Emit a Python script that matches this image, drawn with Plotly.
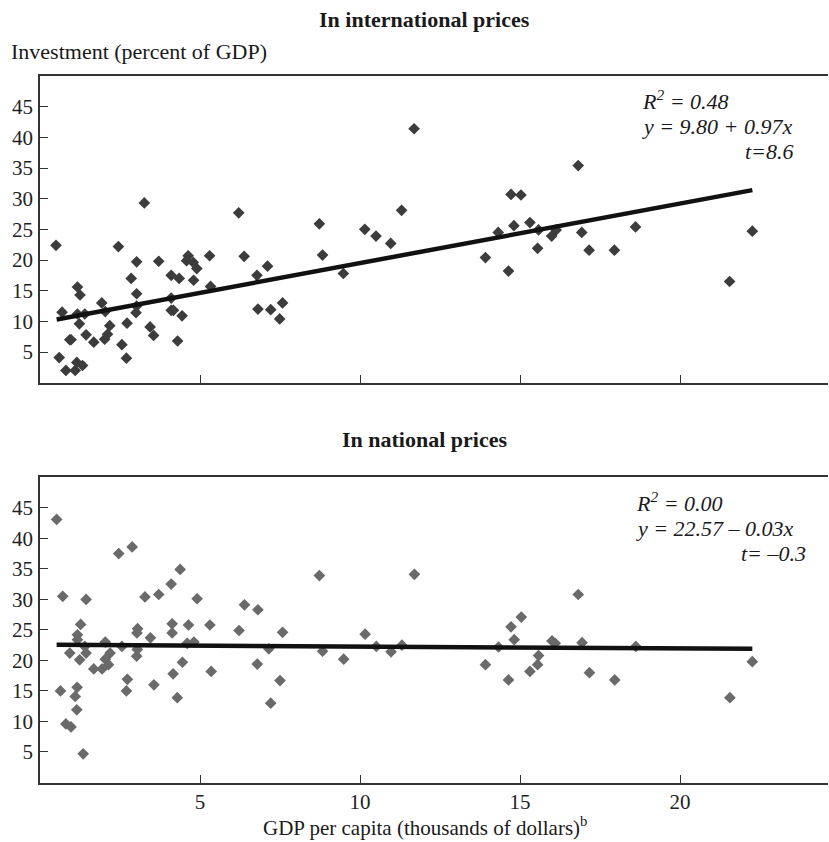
import plotly.graph_objects as go

# ---- Data: in international prices (top panel) ----
intl_x = [0.50, 0.69, 0.60, 0.81, 0.93, 0.97, 1.10, 1.15, 1.17, 1.25, 1.17, 1.23, 1.33, 1.40, 1.44,
          1.68, 1.93, 2.04, 2.02, 2.11, 2.18, 2.45, 2.56, 2.70, 2.72, 2.85, 3.02, 3.02, 3.02, 3.00,
          3.26, 3.44, 3.55, 3.71, 4.10, 4.10, 4.10, 4.17, 4.35, 4.44, 4.30, 4.63, 4.58, 4.79, 4.90,
          4.80, 5.30, 5.33, 6.21, 6.38, 6.78, 7.11, 6.81, 7.21, 7.49, 7.58, 8.73, 8.83, 9.48, 10.15,
          10.50, 10.96, 11.30, 11.69, 13.92, 14.32, 14.64, 14.72, 14.81, 15.03, 15.31, 15.55, 15.58,
          15.99, 16.13, 16.82, 16.93, 17.16, 17.95, 18.61, 21.55, 22.26]
intl_y = [22.4, 11.5, 4.1, 2.0, 7.0, 7.0, 2.0, 3.3, 15.6, 14.3, 11.2, 9.6, 2.8, 11.2, 7.8,
          6.6, 13.0, 11.6, 7.1, 7.9, 9.3, 22.2, 6.2, 4.0, 9.7, 17.0, 19.7, 14.5, 12.5, 11.4,
          29.3, 9.1, 7.7, 19.8, 17.5, 13.8, 11.8, 11.8, 17.0, 10.9, 6.8, 20.7, 19.9, 19.6, 18.6,
          16.7, 20.7, 15.7, 27.7, 20.6, 17.5, 19.0, 12.0, 11.9, 10.4, 13.0, 25.9, 20.8, 17.8, 25.0,
          23.9, 22.7, 28.1, 41.4, 20.4, 24.5, 18.2, 30.7, 25.6, 30.6, 26.1, 21.9, 24.9,
          23.9, 24.9, 35.4, 24.5, 21.6, 21.6, 25.4, 16.5, 24.7]

# ---- Data: in national prices (bottom panel) ----
natl_x = [0.52, 0.71, 0.64, 0.81, 0.97, 0.93, 1.15, 1.10, 1.16, 1.17, 1.17, 1.24, 1.27, 1.35, 1.44,
          1.40, 1.44, 1.68, 1.94, 2.04, 2.04, 2.14, 2.19, 2.46, 2.56, 2.73, 2.70, 2.88, 3.02, 3.04,
          3.05, 3.03, 3.28, 3.45, 3.56, 3.71, 4.10, 4.13, 4.13, 4.16, 4.29, 4.38, 4.45, 4.64, 4.60,
          4.81, 4.91, 5.31, 5.35, 6.22, 6.39, 6.81, 6.79, 7.15, 7.21, 7.50, 7.58, 8.73, 8.83, 9.49,
          10.16, 10.51, 10.97, 11.31, 11.70, 13.92, 14.33, 14.64, 14.72, 14.82, 15.04, 15.31, 15.55,
          15.58, 16.00, 16.10, 16.82, 16.94, 17.17, 17.96, 18.62, 21.56, 22.26]
natl_y = [43.1, 30.5, 15.0, 9.6, 9.1, 21.2, 11.9, 14.1, 15.6, 24.2, 23.4, 20.1, 25.9, 4.7, 30.0,
          22.3, 21.2, 18.6, 18.6, 23.0, 20.2, 19.3, 21.2, 37.5, 22.3, 16.9, 15.0, 38.6, 20.7, 21.8,
          25.2, 24.5, 30.4, 23.7, 16.0, 30.8, 32.5, 26.0, 24.5, 17.8, 13.9, 34.9, 19.7, 25.8, 22.8,
          23.0, 30.1, 25.8, 18.2, 24.9, 29.1, 28.3, 19.4, 21.9, 13.0, 16.7, 24.6, 33.9, 21.5, 20.2,
          24.3, 22.3, 21.4, 22.5, 34.1, 19.3, 22.2, 16.8, 25.5, 23.4, 27.1, 18.2, 19.3,
          20.8, 23.2, 22.8, 30.8, 22.9, 18.0, 16.8, 22.3, 13.9, 19.8]

# Regression coefficients (as printed on chart)
intl_fit = (9.80, 0.97)
natl_fit = (22.57, -0.03)
fit_x = [0.52, 22.26]

y_ticks = [5, 10, 15, 20, 25, 30, 35, 40, 45]
x_ticks = [5, 10, 15, 20]

W, H = 829, 842
def px(x):
    return x / W
def py(y):
    return 1 - y / H

SERIF = "Liberation Serif, Times New Roman, serif"

fig = go.Figure()
fig.add_trace(go.Scatter(x=intl_x, y=intl_y, mode="markers", xaxis="x", yaxis="y",
                         marker=dict(symbol="diamond", size=9, color="#3c3c3c"), showlegend=False))
fig.add_trace(go.Scatter(x=fit_x, y=[intl_fit[0] + intl_fit[1] * v for v in fit_x], mode="lines",
                         xaxis="x", yaxis="y", line=dict(color="#111111", width=4.5), showlegend=False))
fig.add_trace(go.Scatter(x=natl_x, y=natl_y, mode="markers", xaxis="x2", yaxis="y2",
                         marker=dict(symbol="diamond", size=9, color="#6a6a6a"), showlegend=False))
fig.add_trace(go.Scatter(x=fit_x, y=[natl_fit[0] + natl_fit[1] * v for v in fit_x], mode="lines",
                         xaxis="x2", yaxis="y2", line=dict(color="#111111", width=4.5), showlegend=False))

xrange = [0, (828 - 40) / 32]
axis_common = dict(showgrid=False, zeroline=False, showline=True, linecolor="#333333", linewidth=1.5,
                   ticks="inside", ticklen=8, tickwidth=1.2, tickcolor="#333333",
                   tickfont=dict(family=SERIF, size=21, color="#222222"))

fig.update_layout(
    width=W, height=H,
    margin=dict(l=0, r=0, t=0, b=0),
    paper_bgcolor="white", plot_bgcolor="white",
    xaxis=dict(domain=[px(40), px(828)], range=xrange, anchor="y", tickvals=x_ticks,
               showticklabels=False, mirror=True, **axis_common),
    yaxis=dict(domain=[py(382.7), py(76)], range=[0, 50], anchor="x", tickvals=y_ticks,
               ticklabelstandoff=1, **axis_common),
    xaxis2=dict(domain=[px(40), px(828)], range=xrange, anchor="y2", tickvals=x_ticks,
                mirror=True, **axis_common),
    yaxis2=dict(domain=[py(782.5), py(477.3)], range=[0, 50], anchor="x2", tickvals=y_ticks,
                ticklabelstandoff=1, **axis_common),
)

def note(text, x, y, size=18, xanchor="center", bold=False, italic=False):
    t = text
    if bold:
        t = "<b>" + t + "</b>"
    if italic:
        t = "<i>" + t + "</i>"
    fig.add_annotation(text=t, x=px(x), y=py(y), xref="paper", yref="paper", xanchor=xanchor,
                       yanchor="middle", showarrow=False,
                       font=dict(family=SERIF, size=size, color="#1a1a1a"))

note("In international prices", 424, 20, size=22, bold=True)
note("Investment (percent of GDP)", 9, 52, size=22, xanchor="left")
note("In national prices", 424, 440, size=22, bold=True)
note("GDP per capita (thousands of dollars)<sup>b</sup>", 425, 826, size=21)

note("R<sup>2</sup> = 0.48", 640, 100, size=22, xanchor="left", italic=True)
note("y = 9.80 + 0.97x", 640, 127, size=22, xanchor="left", italic=True)
note("t=8.6", 795, 152, size=22, xanchor="right", italic=True)

note("R<sup>2</sup> = 0.00", 634, 502, size=22, xanchor="left", italic=True)
note("y = 22.57 – 0.03x", 634, 528, size=22, xanchor="left", italic=True)
note("t= –0.3", 808, 553, size=22, xanchor="right", italic=True)

fig.write_html("out.html")
